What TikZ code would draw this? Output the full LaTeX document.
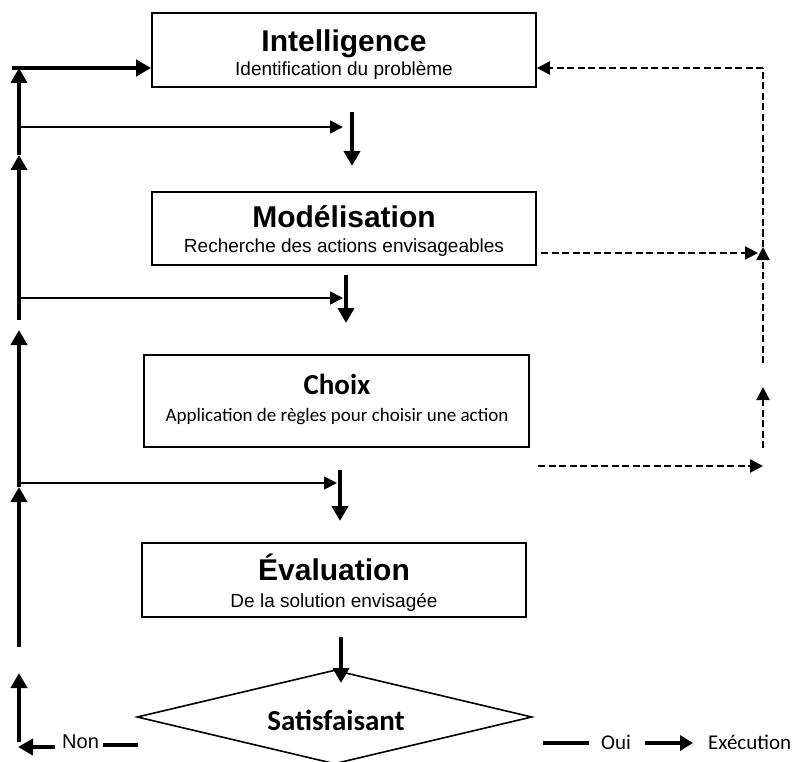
\documentclass[tikz,border=0pt]{standalone}
\usepackage{fontspec}
\setmainfont{Liberation Sans}
\newfontfamily\carlito{Carlito}
\usetikzlibrary{arrows.meta,shapes.geometric}

\begin{document}
\begin{tikzpicture}[x=1pt,y=-1pt,
  stagebox/.style={draw,line width=1.6pt,minimum width=384pt,minimum height=74pt,inner sep=0pt},
  decision/.style={draw,diamond,line width=1.6pt,minimum width=395pt,minimum height=94pt,inner sep=0pt},
  title/.style={font=\fontsize{30}{36}\selectfont\bfseries,anchor=base,inner sep=0pt},
  subtitle/.style={font=\fontsize{19}{23}\selectfont,anchor=base,inner sep=0pt},
  ctitle/.style={font=\carlito\fontsize{29}{35}\selectfont\bfseries,anchor=base,inner sep=0pt},
  csubtitle/.style={font=\carlito\fontsize{19}{23}\selectfont,anchor=base,inner sep=0pt},
  answer/.style={font=\carlito\fontsize{21}{25}\selectfont,anchor=base west,inner sep=0pt},
  thickarrow/.style={line width=4.5pt,-{Triangle[length=15pt,width=16pt]}},
  thickline/.style={line width=4pt},
  thinarrow/.style={line width=1.8pt,-{Triangle[length=13pt,width=13pt]}},
  dashline/.style={line width=2.2pt,dash pattern=on 7pt off 3.5pt},
  dasharrow/.style={dashline,-{Triangle[length=13pt,width=13pt]}}]
\useasboundingbox (0,0) rectangle (803,762);

% stage boxes
\node[stagebox] (intel) at (344,50) {};
\node[stagebox,minimum height=73pt] (model) at (344,228.5) {};
\node[stagebox,minimum width=385pt,minimum height=92pt] (choix) at (336.5,401) {};
\node[stagebox] (eval) at (334,580) {};
\node[decision] (sat) at (334.5,717) {};

% box texts
\node[title] (intelT) at (344,52) {Intelligence};
\node[subtitle] (intelS) at (344,76) {Identification du problème};
\node[title] (modelT) at (344,228) {Modélisation};
\node[subtitle] (modelS) at (344,252) {Recherche des actions envisageables};
\node[ctitle] (choixT) at (337,394) {Choix};
\node[csubtitle] (choixS) at (337,421) {Application de règles pour choisir une action};
\node[title] (evalT) at (334,580) {Évaluation};
\node[subtitle] (evalS) at (334,607) {De la solution envisagée};
\node[ctitle] (satT) at (336,730) {Satisfaisant};

% left feedback spine
\coordinate (a0) at (12,68);
\coordinate (s1b) at (19,320);
\coordinate (s1m) at (19,155);
\coordinate (s1t) at (19,68);
\coordinate (s2b) at (19,647);
\coordinate (s2m) at (19,487);
\coordinate (s2t) at (19,330);
\coordinate (s3b) at (19,742);
\coordinate (s3t) at (19,673);
\draw[thickarrow] (a0) -- (intel.west |- a0);
\draw[thickarrow] (s1b) -- (s1m);
\draw[thickarrow] (s1m) -- (s1t);
\draw[thickarrow] (s2b) -- (s2m);
\draw[thickarrow] (s2m) -- (s2t);
\draw[thickarrow] (s3b) -- (s3t);

% branches from the spine
\coordinate (h1s) at (19,127);  \coordinate (h1e) at (343,127);
\coordinate (h2s) at (19,298);  \coordinate (h2e) at (343,298);
\coordinate (h3s) at (19,483);  \coordinate (h3e) at (337,483);
\draw[thinarrow] (h1s) -- (h1e);
\draw[thinarrow] (h2s) -- (h2e);
\draw[thinarrow] (h3s) -- (h3e);

% downward flow arrows
\coordinate (d1s) at (352,112); \coordinate (d1e) at (352,166);
\coordinate (d2s) at (346,275); \coordinate (d2e) at (346,323);
\coordinate (d3s) at (340,470); \coordinate (d3e) at (340,521);
\coordinate (d4s) at (341,637); \coordinate (d4e) at (341,683);
\draw[thickarrow] (d1s) -- (d1e);
\draw[thickarrow] (d2s) -- (d2e);
\draw[thickarrow] (d3s) -- (d3e);
\draw[thickarrow] (d4s) -- (d4e);

% dashed return path on the right
\coordinate (r0) at (763,68);
\coordinate (r1) at (763,247);
\coordinate (r2) at (763,363);
\coordinate (r3) at (763,448);
\coordinate (r4) at (763,387);
\coordinate (m0) at (541,253);
\coordinate (m1) at (758,253);
\coordinate (c0) at (538,466);
\coordinate (c1) at (763,466);
\draw[dasharrow] (r0) -- (intel.east |- r0);
\draw[dashline] (r1) -- (r0);
\draw[dasharrow] (r2) -- (r1);
\draw[dasharrow] (m0) -- (m1);
\draw[dasharrow] (r3) -- (r4);
\draw[dasharrow] (c0) -- (c1);

% decision outcomes
\coordinate (n0) at (103,745); \coordinate (n1) at (138,745);
\coordinate (n2) at (55,747);  \coordinate (n3) at (18,747);
\draw[thickline] (n0) -- (n1);
\draw[thickarrow,line width=4pt] (n2) -- (n3);
\node[font=\fontsize{20}{24}\selectfont,anchor=base west,inner sep=0pt] (non) at (62,748) {Non};

\coordinate (o0) at (543,743); \coordinate (o1) at (589,743);
\coordinate (o2) at (645,743); \coordinate (o3) at (693,743);
\draw[thickline] (o0) -- (o1);
\draw[line width=4pt,-{Triangle[length=13pt,width=15pt]}] (o2) -- (o3);
\node[answer] (oui) at (601,749) {Oui};
\node[answer] (exec) at (708,749) {Exécution};
\end{tikzpicture}
\end{document}
